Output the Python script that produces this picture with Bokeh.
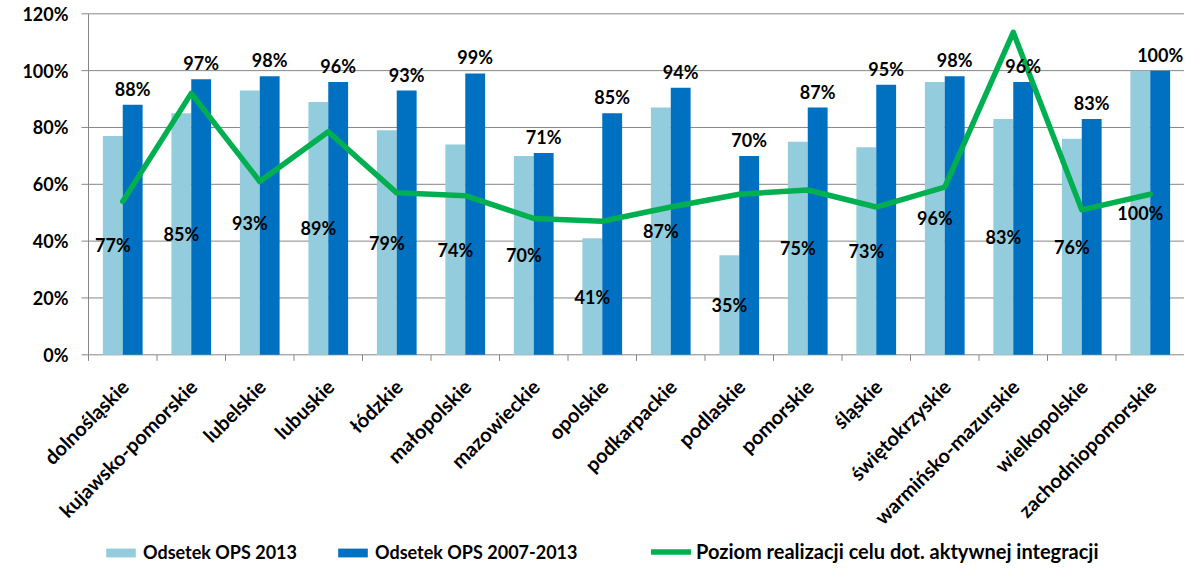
import numpy as np
from math import pi
from bokeh.plotting import figure
from bokeh.models import Range1d, Legend, LegendItem, ColumnDataSource
from bokeh.core.properties import value
from bokeh.embed import file_html
from bokeh.resources import INLINE

cats = ["dolnośląskie", "kujawsko-pomorskie", "lubelskie", "lubuskie", "łódzkie",
        "małopolskie", "mazowieckie", "opolskie", "podkarpackie", "podlaskie",
        "pomorskie", "śląskie", "świętokrzyskie", "warmińsko-mazurskie",
        "wielkopolskie", "zachodniopomorskie"]
ops_2013 = [77, 85, 93, 89, 79, 74, 70, 41, 87, 35, 75, 73, 96, 83, 76, 100]
ops_2007_2013 = [88, 97, 98, 96, 93, 99, 71, 85, 94, 70, 87, 95, 98, 96, 83, 100]
poziom = [54, 92, 61, 78.5, 57, 56, 48, 47, 52, 56.5, 58, 52, 59, 113.5, 51, 56.5]
y_ticks = [0, 20, 40, 60, 80, 100, 120]
y_tick_labels = [f"{t}%" for t in y_ticks]

LIGHT = "#93CDDD"
DARK = "#0070C0"
GREEN = "#00B050"
GRID = "#868686"
FONT = "Lato"

# layout in pixels (the plotting area sits inside one full-size frame)
W, H = 1184, 565
AX_LEFT, AX_TOP, AX_BOTTOM = 88.0, 13.3, 354.3
n = len(cats)
px_per_cat = (W - AX_LEFT) / n
px_per_unit = (AX_BOTTOM - AX_TOP) / y_ticks[-1]
x_lo = -AX_LEFT / px_per_cat
y_hi = y_ticks[-1] + AX_TOP / px_per_unit
y_lo = -(H - AX_BOTTOM) / px_per_unit
xtick_len = 6 / px_per_unit
ytick_len = 7 / px_per_cat

pos = np.arange(n) + 0.5
bw = 0.29
off = 0.145

src = ColumnDataSource(dict(
    x1=pos - off, x2=pos + off, xc=pos,
    a=ops_2013, b=ops_2007_2013, c=poziom,
    a_half=[v / 2 for v in ops_2013],
    a_lab=[f"{v}%" for v in ops_2013],
    b_lab=[f"{v}%" for v in ops_2007_2013],
    cat=cats, zero=[0] * n,
))

p = figure(width=W, height=H, x_range=Range1d(x_lo, n), y_range=Range1d(y_lo, y_hi),
           output_backend="svg", toolbar_location=None,
           x_axis_location=None, y_axis_location=None,
           min_border_left=0, min_border_right=0, min_border_top=0, min_border_bottom=0)
p.outline_line_color = None
p.xgrid.visible = False
p.ygrid.visible = False

# value gridlines (0% line doubles as category axis line)
k = len(y_ticks)
p.segment(x0=[0] * k, y0=y_ticks, x1=[n] * k, y1=y_ticks, line_color=GRID, line_width=1)

r1 = p.vbar(x="x1", top="a", width=bw, source=src, fill_color=LIGHT, line_color=None)
r2 = p.vbar(x="x2", top="b", width=bw, source=src, fill_color=DARK, line_color=None)

# axis lines and ticks
p.segment(x0=[0], y0=[y_ticks[0]], x1=[0], y1=[y_ticks[-1]], line_color=GRID, line_width=1)
p.segment(x0=[-ytick_len] * k, y0=y_ticks, x1=[0] * k, y1=y_ticks, line_color=GRID, line_width=1)
bounds = list(range(n + 1))
p.segment(x0=bounds, y0=[0] * (n + 1), x1=bounds, y1=[-xtick_len] * (n + 1),
          line_color=GRID, line_width=1)

# y tick labels
p.text(x=[0] * k, y=y_ticks, text=y_tick_labels, x_offset=-20, text_align="right",
       text_baseline="middle", text_font=value(FONT), text_font_style="bold",
       text_font_size="18px", text_color="black")

r3 = p.line(x="xc", y="c", source=src, line_color=GREEN, line_width=5.5,
            line_join="round", line_cap="round")

p.text(x="x1", y="a_half", text="a_lab", source=src, text_align="center",
       text_baseline="middle", text_font=value(FONT), text_font_style="bold",
       text_font_size="18px", text_color="black")
p.text(x="x2", y="b", text="b_lab", source=src, text_align="center",
       text_baseline="bottom", y_offset=-5, text_font=value(FONT), text_font_style="bold",
       text_font_size="18px", text_color="black")

# category labels (rotated 45°)
p.text(x="xc", y="zero", text="cat", source=src, angle=pi / 4, text_align="right",
       text_baseline="middle", x_offset=2, y_offset=28, text_font=value(FONT),
       text_font_style="bold", text_font_size="20px", text_color="black")

def style(lg, size):
    lg.label_text_font = FONT
    lg.label_text_font_style = "bold"
    lg.label_text_font_size = size
    lg.label_text_color = "black"
    lg.glyph_height = 11
    lg.padding = 0
    lg.margin = 0
    lg.border_line_color = None
    lg.background_fill_alpha = 0

legend1 = Legend(items=[
    LegendItem(label="Odsetek OPS 2013", renderers=[r1]),
    LegendItem(label="Odsetek OPS 2007-2013", renderers=[r2]),
], orientation="horizontal", location=(102, 2))
style(legend1, "18px")
legend1.glyph_width = 37
legend1.label_standoff = 4
legend1.spacing = 37

legend2 = Legend(items=[
    LegendItem(label="Poziom realizacji celu dot. aktywnej integracji", renderers=[r3]),
], orientation="horizontal", location=(651, 2))
style(legend2, "20px")
legend2.glyph_width = 40
legend2.label_standoff = 5

p.add_layout(legend1, "center")
p.add_layout(legend2, "center")

open("out.html", "w").write(file_html(p, INLINE))
